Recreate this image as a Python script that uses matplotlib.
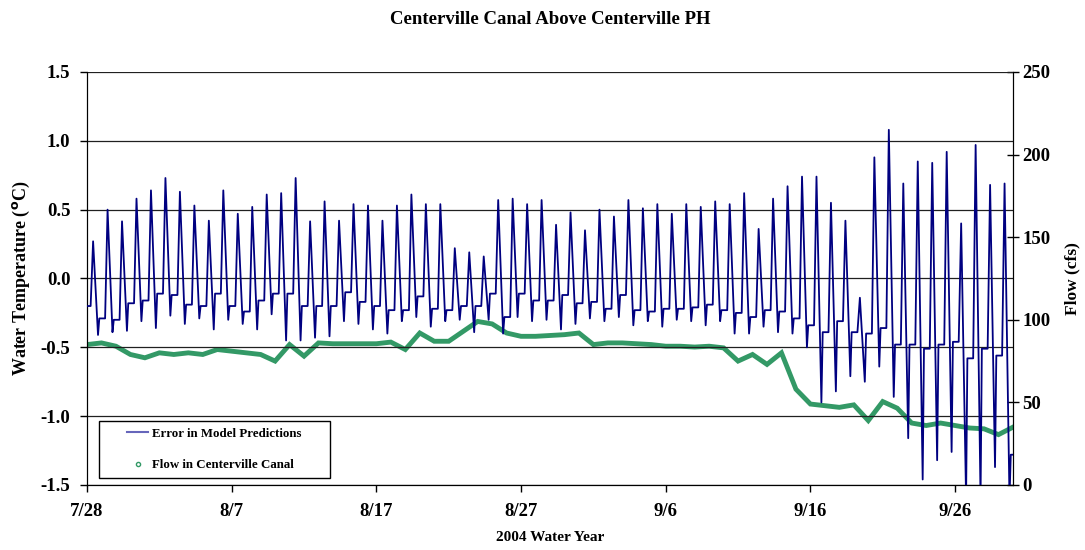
import numpy as np
import matplotlib
matplotlib.use("Agg")
import matplotlib.pyplot as plt
from matplotlib.lines import Line2D
from matplotlib.patches import Rectangle

plt.rcParams['font.family'] = ['Liberation Serif', 'DejaVu Serif']
plt.rcParams['font.weight'] = 'bold'

# Daily readings, day 0 = 7/28/2004
# model error: daily peak, post-peak trough and overnight level (deg C)
start_level = -0.20
err_peak = [0.27, 0.50, 0.415, 0.58, 0.64, 0.73, 0.63, 0.53, 0.42, 0.64,
            0.47, 0.52, 0.61, 0.62, 0.73, 0.415, 0.56, 0.42, 0.54, 0.53,
            0.42, 0.53, 0.61, 0.54, 0.54, 0.22, 0.19, 0.16, 0.57, 0.58,
            0.54, 0.57, 0.39, 0.48, 0.35, 0.50, 0.45, 0.57, 0.51, 0.54,
            0.47, 0.54, 0.52, 0.56, 0.54, 0.62, 0.36, 0.58, 0.67, 0.74,
            0.74, 0.55, 0.42, -0.14, 0.88, 1.08, 0.69, 0.85, 0.84, 0.92,
            0.40, 0.97, 0.68, 0.69]
err_trough = [-0.41, -0.39, -0.38, -0.31, -0.36, -0.27, -0.33, -0.29, -0.37, -0.30,
              -0.33, -0.37, -0.26, -0.45, -0.45, -0.43, -0.42, -0.31, -0.33, -0.37,
              -0.40, -0.31, -0.28, -0.35, -0.31, -0.30, -0.39, -0.30, -0.40, -0.28,
              -0.31, -0.30, -0.37, -0.33, -0.29, -0.31, -0.28, -0.34, -0.31, -0.35,
              -0.30, -0.31, -0.34, -0.31, -0.40, -0.40, -0.35, -0.39, -0.40, -0.50,
              -0.90, -0.82, -0.71, -0.75, -0.64, -0.86, -1.16, -1.46, -1.32, -1.26,
              -1.60, -1.60, -1.37, -1.60]
err_night = [-0.29, -0.30, -0.18, -0.16, -0.11, -0.12, -0.19, -0.20, -0.11, -0.20,
             -0.24, -0.16, -0.11, -0.11, -0.20, -0.20, -0.20, -0.10, -0.17, -0.20,
             -0.23, -0.23, -0.13, -0.22, -0.23, -0.20, -0.20, -0.11, -0.28, -0.11,
             -0.16, -0.16, -0.12, -0.18, -0.17, -0.22, -0.12, -0.23, -0.24, -0.22,
             -0.22, -0.21, -0.19, -0.23, -0.25, -0.28, -0.23, -0.24, -0.29, -0.34,
             -0.39, -0.31, -0.39, -0.40, -0.36, -0.48, -0.48, -0.51, -0.48, -0.46,
             -0.58, -0.51, -0.56, -1.28]

# canal flow (cfs), one value per day from 7/28 to 9/30
flow_cfs = [85, 86, 84, 79, 77, 80, 79, 80, 79, 82,
            81, 80, 79, 75, 85, 78, 86, 85.5, 85.5, 85.5,
            85.5, 86.5, 82, 92, 87, 87, 93, 99, 97.5, 92,
            90, 90, 90.5, 91, 92, 85, 86, 86, 85.5, 85,
            84, 84, 83.5, 84, 83, 75, 79, 73, 80, 58,
            49, 48, 47, 48.5, 39, 50.5, 46.5, 37.5, 36, 37.5,
            36, 34.5, 34, 30.5, 35]

tick_days = [0, 10, 20, 30, 40, 50, 60]
tick_labels = ['7/28', '8/7', '8/17', '8/27', '9/6', '9/16', '9/26']

# build the error trace: rise, peak, fall to trough, settle overnight
ex, ey = [0.0], [start_level]
prev = start_level
for d in range(len(err_peak)):
    ex += [d + 0.25, d + 0.42, d + 0.76, d + 0.85]
    ey += [prev, err_peak[d], err_trough[d], err_night[d]]
    prev = err_night[d]
ex.append(64.0)
ey.append(prev)

fig = plt.figure(figsize=(10.85, 5.5), dpi=100)
ax = fig.add_axes([0.0802, 0.1182, 0.8534, 0.7509])
ax2 = ax.twinx()

ax.plot(ex, ey, color='#000080', lw=1.3, zorder=3)
ax2.plot(np.arange(len(flow_cfs)), flow_cfs, color='#339966', lw=3.5,
         solid_joinstyle='miter', zorder=2)

ax.set_xlim(0, 64)
ax.set_ylim(-1.5, 1.5)
ax2.set_ylim(0, 250)
ax.set_yticks(np.arange(-1.5, 1.51, 0.5))
ax.set_yticklabels(['%.1f' % v for v in np.arange(-1.5, 1.51, 0.5)])
ax2.set_yticks(np.arange(0, 251, 50))
ax.set_xticks(tick_days)
ax.set_xticklabels(tick_labels)

ax.grid(axis='y', color='#202020', lw=0.9)
ax.set_axisbelow(True)
ax.set_zorder(ax2.get_zorder() + 1)
ax.patch.set_visible(False)

ax.tick_params(axis='y', direction='out', length=5, width=1, labelsize=13.5, pad=7)
ax.tick_params(axis='x', direction='out', length=5, width=1, labelsize=13.5, pad=8)
ax2.tick_params(axis='y', direction='inout', length=8, width=1, labelsize=13.5, pad=3)
for sp in ['left', 'right', 'bottom']:
    ax.spines[sp].set_color('black')
    ax2.spines[sp].set_color('black')
ax.spines['top'].set_visible(False)
ax2.spines['top'].set_visible(False)

fig.text(0.5 * (0.0802 + 0.9336), 1 - 20 / 550, 'Centerville Canal Above Centerville PH',
         ha='center', va='center', fontsize=13.5, fontweight='bold')
ax.set_ylabel('Water Temperature ($\\mathbf{^{o}}$C)', fontsize=13, fontweight='bold', labelpad=6)
ax2.set_ylabel('Flow (cfs)', fontsize=12.5, fontweight='bold', labelpad=10)
ax.set_xlabel('2004 Water Year', fontsize=11, fontweight='bold', labelpad=8)

# legend box drawn separately so the entries sit centred inside it
box_x, box_y, box_w, box_h = 0.013, 0.017, 0.249, 0.138
ax.add_patch(Rectangle((box_x, box_y), box_w, box_h, transform=ax.transAxes,
                       facecolor='white', edgecolor='black', lw=1.0, zorder=5))
handles = [Line2D([], [], color='#6666bb', lw=1.5),
           Line2D([], [], color='#339966', ls='none', marker='o', markersize=3,
                  markerfacecolor='white', markeredgewidth=1)]
leg = ax.legend(handles, ['Error in Model Predictions', 'Flow in Centerville Canal'],
                loc='center', bbox_to_anchor=(box_x + box_w / 2, box_y + box_h / 2),
                frameon=False, prop={'size': 9.3, 'weight': 'bold'}, handlelength=1.6,
                handletextpad=0.3, labelspacing=1.5, borderaxespad=0)
leg.set_zorder(6)

fig.savefig('out.png', dpi=100)
